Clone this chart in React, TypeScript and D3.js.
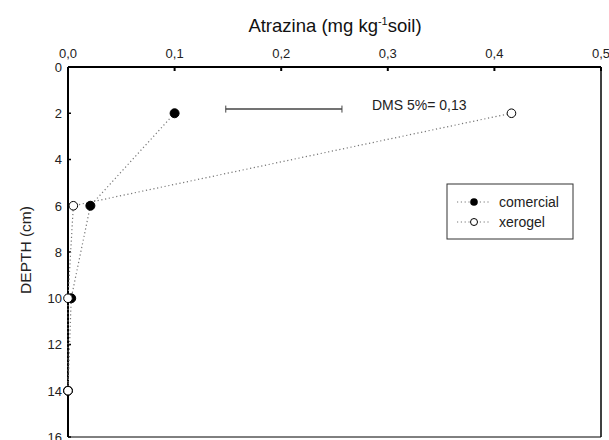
import React from 'react';
import * as d3 from 'd3';

// concentration (mg/kg soil) by depth (cm)
const depths = [2, 6, 10, 14];
const comercial = [0.1, 0.021, 0.003, 0];
const xerogel = [0.416, 0.005, 0, 0];
const xTicks = [0, 0.1, 0.2, 0.3, 0.4, 0.5];
const yTicks = [0, 2, 4, 6, 8, 10, 12, 14, 16];
const dmsStart = 0.148;
const dmsEnd = 0.257;
const dmsDepth = 1.82;

const W = 609;
const H = 440;
const left = 68, right = 601, top = 67, bottom = 437;
const font = '"Liberation Sans", Arial, sans-serif';

export default function App() {
  const x = d3.scaleLinear().domain([0, 0.5]).range([left, right]);
  const y = d3.scaleLinear().domain([0, 16]).range([top, bottom]);

  const line = d3.line<[number, number]>()
    .x(d => x(d[0]))
    .y(d => y(d[1]));

  const comPts: [number, number][] = comercial.map((v, i) => [v, depths[i]]);
  const xerPts: [number, number][] = xerogel.map((v, i) => [v, depths[i]]);

  return (
    <svg width={W} height={H} style={{ position: 'absolute', left: 0, top: 0, fontFamily: font }}>
      <rect width={W} height={H} fill="#fff" />

      {/* title */}
      <text x={335} y={32} textAnchor="middle" fontSize={18.5} fill="#111">
        Atrazina (mg kg<tspan dy={-7} fontSize={11}>-1</tspan><tspan dy={7}>soil)</tspan>
      </text>

      {/* y label */}
      <text transform={`translate(31,${250}) rotate(-90)`} textAnchor="middle" fontSize={15.5} fill="#222">
        DEPTH (cm)
      </text>

      {/* frame */}
      <line x1={left} x2={right} y1={bottom} y2={bottom} stroke="#000" strokeWidth={1} />
      <line x1={right} x2={right} y1={top} y2={bottom} stroke="#000" strokeWidth={1.5} />
      <line x1={left} x2={right} y1={top} y2={top} stroke="#000" strokeWidth={2} />
      <line x1={left} x2={left} y1={top} y2={bottom} stroke="#000" strokeWidth={2} />

      {/* x ticks */}
      {xTicks.map(t => (
        <g key={'x' + t}>
          <line x1={x(t)} x2={x(t)} y1={top} y2={top + 4} stroke="#000" strokeWidth={2} />
          <text x={x(t)} y={58} textAnchor="middle" fontSize={13} fill="#222">
            {d3.format('.1f')(t).replace('.', ',')}
          </text>
        </g>
      ))}

      {/* y ticks */}
      {yTicks.map(t => (
        <g key={'y' + t}>
          <line x1={left} x2={left + 3} y1={y(t)} y2={y(t)} stroke="#000" strokeWidth={1.5} />
          <text x={left - 6} y={y(t) + 4.8} textAnchor="end" fontSize={13} fill="#222">{t}</text>
        </g>
      ))}

      {/* series lines */}
      <path d={line(comPts) || ''} fill="none" stroke="#777" strokeWidth={1.2} strokeDasharray="1.2,2.6" />
      <path d={line(xerPts) || ''} fill="none" stroke="#777" strokeWidth={1.2} strokeDasharray="1.2,2.6" />

      {comPts.map((d, i) => (
        <circle key={'c' + i} cx={x(d[0])} cy={y(d[1])} r={4.5} fill="#000" stroke="#000" />
      ))}
      {xerPts.map((d, i) => (
        <circle key={'o' + i} cx={x(d[0])} cy={y(d[1])} r={4.3} fill="#fff" stroke="#000" strokeWidth={1} />
      ))}

      {/* DMS bar */}
      <line x1={x(dmsStart)} x2={x(dmsEnd)} y1={y(dmsDepth)} y2={y(dmsDepth)} stroke="#444" strokeWidth={1.5} />
      <line x1={x(dmsStart)} x2={x(dmsStart)} y1={y(dmsDepth) - 3.5} y2={y(dmsDepth) + 3.5} stroke="#444" strokeWidth={1} />
      <line x1={x(dmsEnd)} x2={x(dmsEnd)} y1={y(dmsDepth) - 3.5} y2={y(dmsDepth) + 3.5} stroke="#444" strokeWidth={1} />
      <text x={372} y={110} fontSize={14} fill="#222">DMS 5%= 0,13</text>

      {/* legend */}
      <rect x={447} y={184} width={126} height={55} fill="#fff" stroke="#333" strokeWidth={1} />
      <g>
        <line x1={457} x2={489} y1={202} y2={202} stroke="#777" strokeDasharray="1.2,2.6" />
        <circle cx={474} cy={202} r={3.8} fill="#000" />
        <text x={499} y={207} fontSize={14} fill="#222">comercial</text>
        <line x1={457} x2={489} y1={222} y2={222} stroke="#777" strokeDasharray="1.2,2.6" />
        <circle cx={474} cy={222} r={3.5} fill="#fff" stroke="#000" />
        <text x={499} y={227} fontSize={14} fill="#222">xerogel</text>
      </g>
    </svg>
  );
}
